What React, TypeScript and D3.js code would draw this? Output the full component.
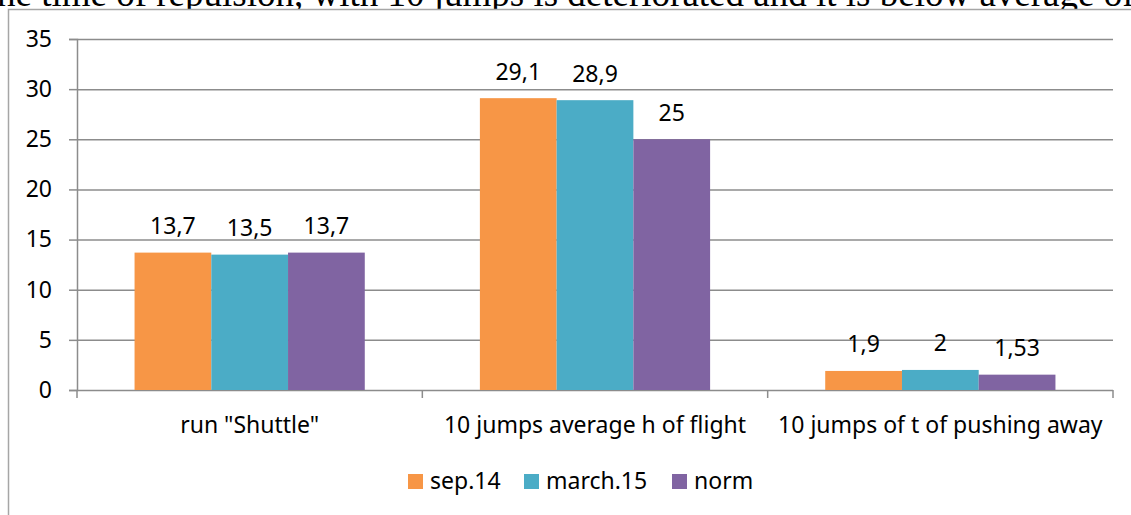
import { useEffect, useRef } from "react";
import * as d3 from "d3";

const CATEGORIES = ['run "Shuttle"', "10 jumps average h of flight", "10 jumps of t of pushing away"];
const SERIES = ["sep.14", "march.15", "norm"];
const SEP14 = [13.7, 29.1, 1.9];
const MARCH15 = [13.5, 28.9, 2];
const NORM = [13.7, 25, 1.53];
const Y_TICKS = [0, 5, 10, 15, 20, 25, 30, 35];
const COLORS = ["#f79646", "#4bacc6", "#8064a2"];

const CAPTION = "he time of repulsion, with 10 jumps is deteriorated and it is below average of";

const W = 1131;
const H = 515;
const FONT = "'Noto Sans', 'Open Sans', sans-serif";

export default function App() {
  const ref = useRef<SVGSVGElement | null>(null);

  useEffect(() => {
    if (!ref.current) return;
    const svg = d3.select(ref.current);
    svg.selectAll("*").remove();

    const plot = { left: 77, right: 1113, top: 39, bottom: 390 };
    const values = [SEP14, MARCH15, NORM];

    const x0 = d3.scaleBand<string>().domain(CATEGORIES).range([plot.left, plot.right]).padding(0);
    const x1 = d3
      .scaleBand<string>()
      .domain(SERIES)
      .range([0, x0.bandwidth()])
      .paddingInner(0)
      .paddingOuter(0.75);
    const y = d3.scaleLinear().domain([0, 35]).range([plot.bottom, plot.top]);

    // paragraph text above the chart, only its lower part is on the page
    svg
      .append("text")
      .attr("x", -3)
      .attr("y", 6)
      .attr("font-family", "'Liberation Serif', 'Times New Roman', serif")
      .attr("font-size", 37)
      .attr("fill", "#000")
      .text(CAPTION);

    // chart frame, runs off the page on the right and bottom
    svg
      .append("rect")
      .attr("x", 8.5)
      .attr("y", 9.5)
      .attr("width", 1300)
      .attr("height", 700)
      .attr("fill", "#fff")
      .attr("stroke", "#a6a6a6")
      .attr("stroke-width", 1.5);

    // gridlines + y axis
    const yAxis = svg
      .append("g")
      .attr("transform", `translate(${plot.left},0)`)
      .call(
        d3
          .axisLeft(y)
          .tickValues(Y_TICKS)
          .tickSize(8)
          .tickPadding(17)
          .tickFormat((d) => String(d))
      );
    yAxis.select(".domain").attr("stroke", "#8c8c8c").attr("stroke-width", 1.5);
    yAxis
      .selectAll(".tick line")
      .attr("x2", -8)
      .attr("stroke", "#8c8c8c")
      .attr("stroke-width", 1.5)
      .clone()
      .attr("x2", plot.right - plot.left);
    yAxis
      .selectAll("text")
      .attr("font-family", FONT)
      .attr("font-size", 23)
      .attr("fill", "#000");

    // category axis
    const xAxis = svg
      .append("g")
      .attr("transform", `translate(0,${plot.bottom})`)
      .call(d3.axisBottom(x0).tickSize(0).tickPadding(27));
    xAxis.select(".domain").remove();
    xAxis.selectAll(".tick line").remove();
    xAxis
      .selectAll("text")
      .attr("font-family", FONT)
      .attr("font-size", 23)
      .attr("fill", "#000");

    const bounds = [...CATEGORIES.map((c) => x0(c) ?? 0), plot.right];
    svg
      .append("g")
      .selectAll("line")
      .data(bounds)
      .enter()
      .append("line")
      .attr("x1", (d) => d)
      .attr("x2", (d) => d)
      .attr("y1", plot.bottom)
      .attr("y2", plot.bottom + 8)
      .attr("stroke", "#8c8c8c")
      .attr("stroke-width", 1.5);

    // bars
    const rows = CATEGORIES.flatMap((c, i) =>
      SERIES.map((s, j) => ({ cat: c, series: s, value: values[j][i], color: COLORS[j] }))
    );

    svg
      .append("g")
      .selectAll("rect")
      .data(rows)
      .enter()
      .append("rect")
      .attr("x", (d) => (x0(d.cat) ?? 0) + (x1(d.series) ?? 0))
      .attr("y", (d) => y(d.value))
      .attr("width", x1.bandwidth())
      .attr("height", (d) => y(0) - y(d.value))
      .attr("fill", (d) => d.color);

    svg
      .append("g")
      .selectAll("text")
      .data(rows)
      .enter()
      .append("text")
      .attr("x", (d) => (x0(d.cat) ?? 0) + (x1(d.series) ?? 0) + x1.bandwidth() / 2)
      .attr("y", (d) => y(d.value) - 18.5)
      .attr("text-anchor", "middle")
      .attr("font-family", FONT)
      .attr("font-size", 23)
      .attr("fill", "#000")
      .text((d) => String(d.value).replace(".", ","));

    // legend
    const legendX = [408, 524, 672];
    const legend = svg
      .append("g")
      .selectAll("g")
      .data(SERIES)
      .enter()
      .append("g")
      .attr("transform", (_, i) => `translate(${legendX[i]},474)`);
    legend
      .append("rect")
      .attr("width", 15)
      .attr("height", 15)
      .attr("fill", (_, i) => COLORS[i]);
    legend
      .append("text")
      .attr("x", 22)
      .attr("y", 15)
      .attr("font-family", FONT)
      .attr("font-size", 23)
      .attr("fill", "#000")
      .text((d) => d);
  }, []);

  return (
    <div style={{ position: "absolute", left: 0, top: 0, width: W, height: H, overflow: "hidden", background: "#fff" }}>
      <svg ref={ref} width={W} height={H} style={{ display: "block" }} />
    </div>
  );
}
